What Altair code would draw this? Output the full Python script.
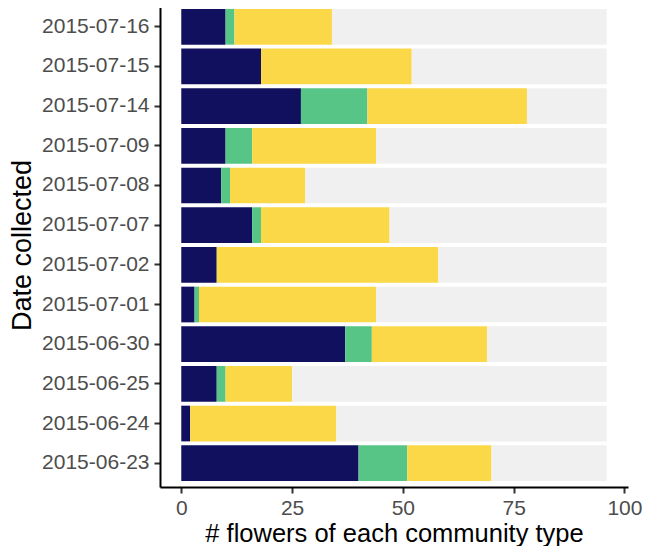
import altair as alt
import pandas as pd

dates = ["2015-06-23", "2015-06-24", "2015-06-25", "2015-06-30", "2015-07-01", "2015-07-02",
         "2015-07-07", "2015-07-08", "2015-07-09", "2015-07-14", "2015-07-15", "2015-07-16"]
type_a = [40, 2, 8, 37, 3, 8, 16, 9, 10, 27, 18, 10]
type_b = [11, 0, 2, 6, 1, 0, 2, 2, 6, 15, 0, 2]
type_c = [19, 33, 15, 26, 40, 50, 29, 17, 28, 36, 34, 22]
totals = [96] * 12

categories = ["Type A", "Type B", "Type C", "Unassigned"]
colors = ["#11105E", "#57C585", "#FBD848", "#F0F0F0"]

rows = []
for i, d in enumerate(dates):
    rest = totals[i] - type_a[i] - type_b[i] - type_c[i]
    for k, (cat, v) in enumerate(zip(categories, [type_a[i], type_b[i], type_c[i], rest])):
        rows.append({"date": d, "type": cat, "n": v, "order": k})
df = pd.DataFrame(rows)

font = "Liberation Sans"

chart = alt.Chart(df).mark_bar().encode(
    x=alt.X("sum(n):Q", stack="zero",
            scale=alt.Scale(domain=[-4.8, 100.8], nice=False, zero=False),
            axis=alt.Axis(title="# flowers of each community type", values=[0, 25, 50, 75, 100],
                          grid=False, domainColor="black", domainWidth=2, tickColor="#333333",
                          tickWidth=2, tickSize=6, labelFontSize=21, labelColor="#4D4D4D",
                          labelFont=font, labelPadding=4, titleFont=font, titleFontSize=25.5,
                          titleColor="black", titleFontWeight="normal", titlePadding=3,
                          labelFlush=False)),
    y=alt.Y("date:N", sort=list(reversed(dates)),
            scale=alt.Scale(paddingInner=0.1, paddingOuter=0.15),
            axis=alt.Axis(title="Date collected", grid=False, domainColor="black", domainWidth=2,
                          tickColor="#333333", tickWidth=2, tickSize=6, labelFontSize=21,
                          labelColor="#4D4D4D", labelFont=font, labelPadding=5, titleFont=font,
                          titleFontSize=27, titleColor="black", titleFontWeight="normal",
                          titlePadding=5)),
    color=alt.Color("type:N", scale=alt.Scale(domain=categories, range=colors), legend=None),
    order=alt.Order("order:Q", sort="ascending"),
).properties(
    width=468, height=484,
    autosize=alt.AutoSizeParams(type="none"),
    padding={"left": 152, "top": -5, "right": 14, "bottom": 59},
).configure_view(stroke=None)

chart.save("out.html", embed_options={"renderer": "svg", "actions": False})
